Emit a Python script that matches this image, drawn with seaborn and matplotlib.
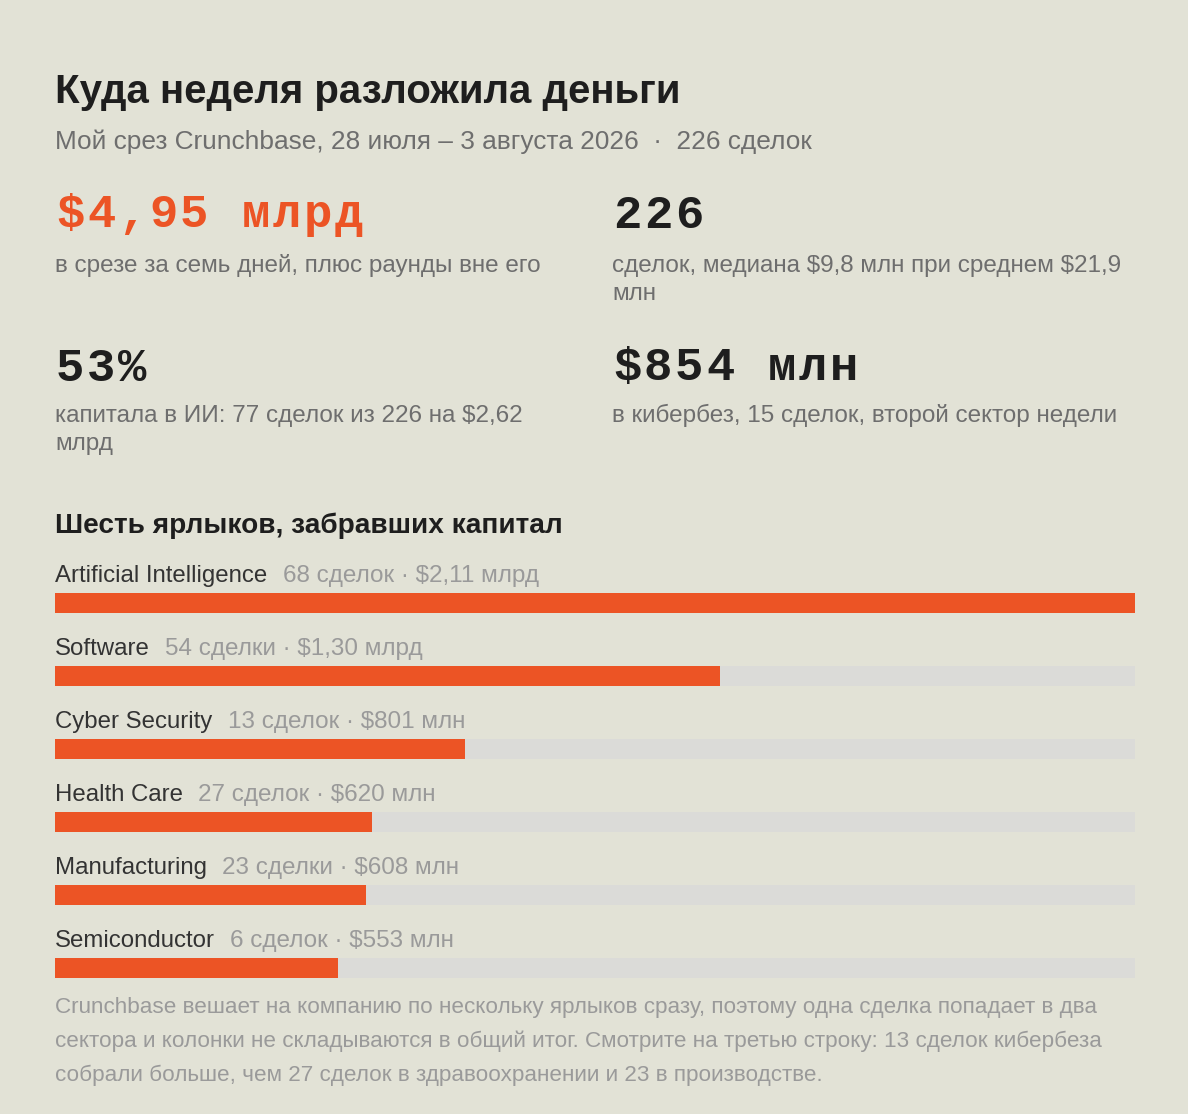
import matplotlib
matplotlib.use("Agg")
import matplotlib.pyplot as plt
import seaborn as sns
import pandas as pd

W, H = 1188, 1114
BG = "#e2e2d6"
ORANGE = "#ec5425"
TRACK = "#dbdbd8"
INK = "#1e1e1e"
DARK = "#333333"
GREY = "#6e6e6e"
LIGHT = "#9a9a9a"

title = "Куда неделя разложила деньги"
subtitle = "Мой срез Crunchbase, 28 июля – 3 августа 2026  ·  226 сделок"

kpi_values = ["$4,95 млрд", "226", "53%", "$854 млн"]
kpi_notes = [
    "в срезе за семь дней, плюс раунды вне его",
    "сделок, медиана $9,8 млн при среднем $21,9\nмлн",
    "капитала в ИИ: 77 сделок из 226 на $2,62\nмлрд",
    "в кибербез, 15 сделок, второй сектор недели",
]
kpi_colors = [ORANGE, INK, INK, INK]

section = "Шесть ярлыков, забравших капитал"
sectors = ["Artificial Intelligence", "Software", "Cyber Security",
           "Health Care", "Manufacturing", "Semiconductor"]
deals = [68, 54, 13, 27, 23, 6]
deal_words = ["сделок", "сделки", "сделок", "сделок", "сделки", "сделок"]
amounts_musd = [2110, 1300, 801, 620, 608, 553]
amount_labels = ["$2,11 млрд", "$1,30 млрд", "$801 млн", "$620 млн", "$608 млн", "$553 млн"]

footnote = ("Crunchbase вешает на компанию по нескольку ярлыков сразу, поэтому одна сделка попадает в два\n"
            "сектора и колонки не складываются в общий итог. Смотрите на третью строку: 13 сделок кибербеза\n"
            "собрали больше, чем 27 сделок в здравоохранении и 23 в производстве.")

sns.set_theme(style="white")
plt.rcParams["font.family"] = ["Liberation Sans", "DejaVu Sans"]
plt.rcParams["text.parse_math"] = False
MONO = ["Liberation Mono", "DejaVu Sans Mono"]

fig = plt.figure(figsize=(W / 100, H / 100), dpi=100, facecolor=BG)


def ftext(x, y, s, **kw):
    # x, y in pixels from top-left, y is the baseline
    return fig.text(x / W, 1 - y / H, s, va="baseline", ha="left", **kw)


def lines(x, y, s, step, **kw):
    for k, line in enumerate(s.split("\n")):
        ftext(x, y + k * step, line, **kw)


def mono(x, y, s, pitch, **kw):
    # monospace figure with a bit of letter spacing
    for k, ch in enumerate(s):
        ftext(x + k * pitch, y, ch, family=MONO, fontweight="bold", **kw)


ftext(55, 103, title, fontsize=29, fontweight="bold", color=INK)
ftext(55, 149, subtitle, fontsize=18.9, color=GREY)

# KPI blocks
kpi_x = [56, 613, 56, 613]
kpi_y = [227, 228, 381, 380]
note_y = [272, 272, 422, 422]
for i in range(4):
    mono(kpi_x[i], kpi_y[i], kpi_values[i], 31, fontsize=34, color=kpi_colors[i])
    lines(kpi_x[i] - 1, note_y[i], kpi_notes[i], 28, fontsize=17.5, color=GREY)

ftext(55, 533, section, fontsize=20.2, fontweight="bold", color=INK)

# bars
df = pd.DataFrame({"sector": sectors, "amount": amounts_musd})
df["track"] = df["amount"].max()

top, bottom, first_c, step = 560, 980, 603, 73
ax = fig.add_axes([55 / W, 1 - bottom / H, 1080 / W, (bottom - top) / H])
ax.set_facecolor(BG)
bw = 20 / step
sns.barplot(data=df, x="track", y="sector", color=TRACK, width=bw, saturation=1,
            linewidth=0, errorbar=None, orient="h", ax=ax)
sns.barplot(data=df, x="amount", y="sector", color=ORANGE, width=bw, saturation=1,
            linewidth=0, errorbar=None, orient="h", ax=ax)
n = len(sectors)
ax.set_xlim(0, df["track"].max())
ax.set_ylim(n - 1 + (bottom - (first_c + step * (n - 1))) / step, -(first_c - top) / step)
ax.set_axis_off()

for i, name in enumerate(sectors):
    t = ax.text(0, i - 21 / step, name, fontsize=17.3, color=DARK, va="baseline", ha="left")
    ax.annotate(f"{deals[i]} {deal_words[i]} · {amount_labels[i]}", xy=(1, 0), xycoords=t,
                xytext=(11, 0), textcoords="offset points", va="bottom", ha="left",
                fontsize=17.5, color=LIGHT)

lines(55, 1013, footnote, 34, fontsize=16.2, color=LIGHT)

fig.savefig("out.png", dpi=100, facecolor=BG)
